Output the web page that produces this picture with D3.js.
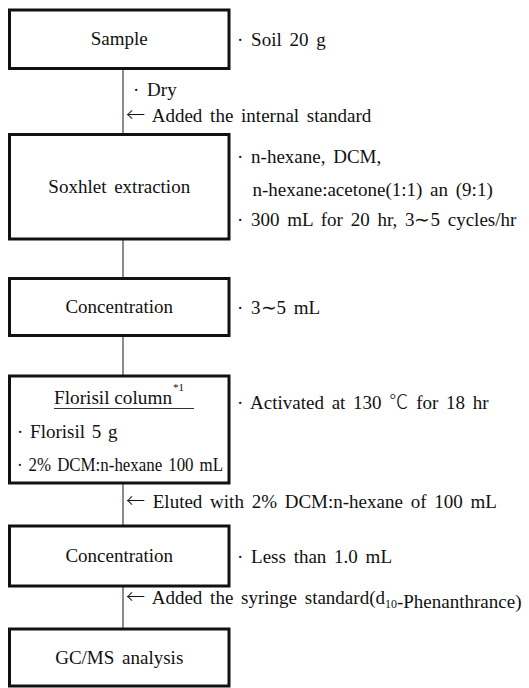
<!DOCTYPE html>
<html>
<head>
<meta charset="utf-8">
<script src="https://cdn.jsdelivr.net/npm/d3@7/dist/d3.min.js"></script>
<style>
  body { margin: 0; background: #fff; }
  svg text { font-family: "Liberation Serif", "Times New Roman", serif; fill: #111; }
  svg tspan.cjk { font-family: "Noto Sans CJK KR", sans-serif; font-weight: 300; }
</style>
</head>
<body>
<svg id="chart"></svg>
<script>
// Flow chart data
var steps = ["Sample", "Soxhlet extraction", "Concentration", "Florisil column", "Concentration", "GC/MS analysis"];
var stepNotes = [
  ["· Soil 20 g"],
  ["· n-hexane, DCM,", "  n-hexane:acetone(1:1) an (9:1)", "· 300 mL for 20 hr, 3∼5 cycles/hr"],
  ["· 3∼5 mL"],
  ["· Activated at 130 ℃ for 18 hr"],
  ["· Less than 1.0 mL"],
  []
];
var florisilItems = ["· Florisil 5 g", "· 2% DCM:n-hexane 100 mL"];
var linkNotes = [
  ["· Dry", "← Added the internal standard"],
  [],
  [],
  ["← Eluted with 2% DCM:n-hexane of 100 mL"],
  ["← Added the syringe standard(d10-Phenanthrance)"]
];

// Layout (pixels)
var width = 529, height = 688;
var boxLeft = 9.5, boxRight = 229, lineX = 123, noteX = 237;
var boxTop = [10, 134.5, 278.5, 376, 526, 629];
var boxBottom = [68.5, 239, 335.5, 483, 586, 686];
var stepNoteY = [[46], [163, 196, 226], [314], [409], [563], []];
var linkNoteY = [[96, 122], [], [], [508], [604]];
var fontSize = 19;

var svg = d3.select("#chart").attr("width", width).attr("height", height);

// Write a string into a <text>, using the CJK face for arrows, tildes and ℃,
// and dropping "d10" to a subscript.
function fillText(t, str) {
  var parts = str.split(/([←∼℃]|\(d10)/).filter(function (s) { return s.length; });
  parts.forEach(function (p) {
    if (p === "←" || p === "∼" || p === "℃") {
      t.append("tspan").attr("class", "cjk").text(p);
    } else if (p === "(d10") {
      t.append("tspan").text("(d");
      t.append("tspan").attr("font-size", 12).attr("dy", 4).text("10");
      t.append("tspan").attr("dy", -4).text("");
    } else {
      t.append("tspan").text(p);
    }
  });
}

// Connectors
var links = d3.range(steps.length - 1);
svg.selectAll("line.link").data(links).enter().append("line")
    .attr("class", "link")
    .attr("x1", lineX).attr("x2", lineX)
    .attr("y1", function (i) { return boxBottom[i]; })
    .attr("y2", function (i) { return boxTop[i + 1]; })
    .attr("stroke", "#666").attr("stroke-width", 1.5);

// Boxes
svg.selectAll("rect.step").data(steps).enter().append("rect")
    .attr("class", "step")
    .attr("x", boxLeft)
    .attr("y", function (d, i) { return boxTop[i]; })
    .attr("width", boxRight - boxLeft)
    .attr("height", function (d, i) { return boxBottom[i] - boxTop[i]; })
    .attr("fill", "none").attr("stroke", "#111").attr("stroke-width", 3);

// Box labels (Florisil is drawn separately)
var labelled = steps.map(function (d, i) { return { name: d, i: i }; })
    .filter(function (d) { return d.i !== 3; });
svg.selectAll("text.step").data(labelled).enter()
    .append("text")
    .attr("class", "step")
    .attr("x", (boxLeft + boxRight) / 2)
    .attr("y", function (d) { return (boxTop[d.i] + boxBottom[d.i]) / 2 + 6; })
    .attr("text-anchor", "middle")
    .attr("font-size", fontSize)
    .attr("word-spacing", 3)
    .text(function (d) { return d.name; });

// Florisil box content
svg.append("text")
    .attr("x", 54).attr("y", 404)
    .attr("font-size", fontSize)
    .attr("textLength", 118)
    .attr("lengthAdjust", "spacingAndGlyphs")
    .text(steps[3]);
svg.append("line").attr("x1", 54).attr("x2", 194).attr("y1", 408.5).attr("y2", 408.5)
    .attr("stroke", "#333").attr("stroke-width", 1);
svg.append("text").attr("x", 173).attr("y", 391).attr("font-size", 11).text("*1");
svg.selectAll("text.fitem").data(florisilItems).enter().append("text")
    .attr("class", "fitem")
    .attr("x", 17)
    .attr("y", function (d, i) { return 438 + i * 33; })
    .attr("font-size", fontSize)
    .attr("word-spacing", 2)
    .attr("textLength", function (d, i) { return i ? 206 : null; })
    .attr("lengthAdjust", "spacingAndGlyphs")
    .text(function (d) { return d; });

// Notes beside boxes
stepNotes.forEach(function (notes, i) {
  notes.forEach(function (d, j) {
    var t = svg.append("text")
        .attr("x", noteX)
        .attr("y", stepNoteY[i][j])
        .attr("font-size", fontSize)
        .attr("word-spacing", 3)
        .attr("xml:space", "preserve")
        .style("white-space", "pre");
    fillText(t, d);
  });
});

// Notes along connectors
linkNotes.forEach(function (notes, i) {
  notes.forEach(function (d, j) {
    var t = svg.append("text")
        .attr("x", d.charAt(0) === "·" ? 133 : 126)
        .attr("y", linkNoteY[i][j])
        .attr("font-size", fontSize)
        .attr("word-spacing", 3);
    fillText(t, d);
  });
});
</script>
</body>
</html>
